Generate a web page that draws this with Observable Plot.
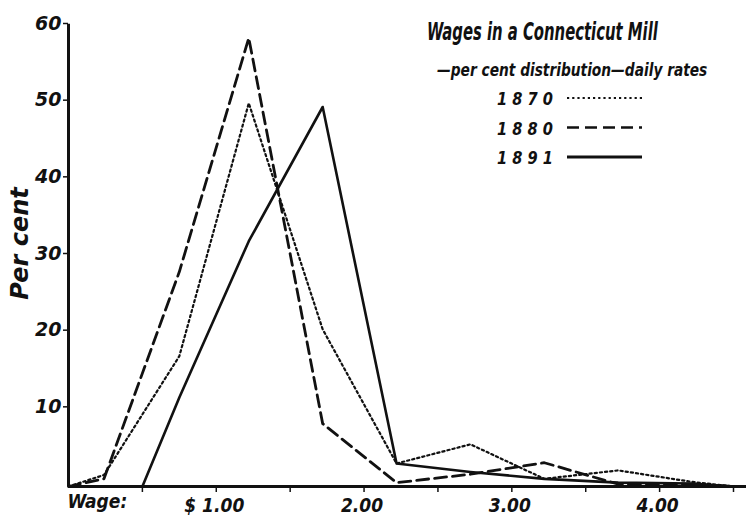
<!DOCTYPE html>
<html>
<head>
<meta charset="utf-8">
<script src="https://cdn.jsdelivr.net/npm/d3@7"></script>
<script src="https://cdn.jsdelivr.net/npm/@observablehq/plot@0.6"></script>
<style>
  html, body { margin: 0; padding: 0; background: #fff; }
  #wrap { position: relative; width: 746px; height: 521px; }
  #overlay { position: absolute; left: 0; top: 0; pointer-events: none; }
</style>
</head>
<body>
<div id="wrap"></div>
<script>
// ---- data ----
const wages = [0, 0.24, 0.75, 1.22, 1.72, 2.22, 2.72, 3.22, 3.72, 4.22, 4.5];
const pct1870 = [0, 1.5, 17, 50, 20.5, 3, 5.5, 1.0, 2.1, 0.6, 0];
const pct1880 = [0, 1.0, 28, 58.5, 8.2, 0.5, 1.6, 3.1, 0.3, 0.3, 0];
const wages1891 = [0.5, 0.75, 1.22, 1.72, 2.22, 2.72, 3.22, 3.72, 4.22, 4.5];
const pct1891 = [0, 11.6, 32, 49.5, 3, 1.9, 1.0, 0.5, 0.4, 0];
const yTicks = [10, 20, 30, 40, 50, 60];
const xTickMarks = [0.5, 1, 1.5, 2, 2.5, 3, 3.5, 4, 4.5];
const xLabelTicks = [1, 2, 3, 4];
const xLabels = ["$ 1.00", "2.00", "3.00", "4.00"];
const years = ["1870", "1880", "1891"];

const rows1870 = wages.map((w, i) => ({wage: w, pct: pct1870[i]}));
const rows1880 = wages.map((w, i) => ({wage: w, pct: pct1880[i]}));
const rows1891 = wages1891.map((w, i) => ({wage: w, pct: pct1891[i]}));

const hand = "'DejaVu Sans Condensed', 'Liberation Sans Narrow', sans-serif";
const handWide = "'DejaVu Sans', sans-serif";

const chart = Plot.plot({
  width: 746,
  height: 521,
  marginLeft: 68,
  marginRight: 0,
  marginTop: 26,
  marginBottom: 35,
  x: {domain: [0, 4.588]},
  y: {domain: [0, 60]},
  style: {background: "#fff", color: "#111", fontFamily: hand},
  marks: [
    Plot.axisY({ticks: yTicks, tickSize: 5, tickPadding: 2, label: null,
      fontSize: 19, fontWeight: "bold", fontStyle: "italic", fontFamily: handWide,
      dy: -3, strokeWidth: 1.5}),
    Plot.axisX({ticks: xTickMarks, tickSize: 6, tickFormat: () => "", label: null, strokeWidth: 1.5}),
    Plot.axisX({ticks: xLabelTicks, tickSize: 0, tickPadding: 12, label: null,
      tickFormat: d => xLabels[xLabelTicks.indexOf(d)],
      fontSize: 19, fontWeight: "bold", fontStyle: "italic", dx: -2}),
    Plot.ruleX([0], {y1: 0, y2: 60.3, stroke: "#111", strokeWidth: 3}),
    Plot.ruleY([0], {stroke: "#111", strokeWidth: 3}),
    Plot.line(rows1870, {x: "wage", y: "pct", stroke: "#111", strokeWidth: 2.2, strokeDasharray: "2.2,3"}),
    Plot.line(rows1880, {x: "wage", y: "pct", stroke: "#111", strokeWidth: 2.8, strokeDasharray: "12,6"}),
    Plot.line(rows1891, {x: "wage", y: "pct", stroke: "#111", strokeWidth: 2.6}),
    Plot.text(["Per cent"], {frameAnchor: "left", textAnchor: "middle", rotate: -90, dx: -48, dy: -13,
      fontSize: 24, fontWeight: "bold", fontStyle: "italic", fontFamily: handWide, fill: "#111"}),
    Plot.text(["Wage:"], {frameAnchor: "bottom-left", dx: -1, dy: 21, textAnchor: "start",
      fontSize: 19, fontWeight: "bold", fontStyle: "italic", fill: "#111"})
  ]
});
document.getElementById("wrap").appendChild(chart);

// ---- title and legend overlay ----
const ov = d3.select("#wrap").append("svg").attr("id", "overlay")
  .attr("width", 746).attr("height", 521);
function squeezed(str, x, y, size, sx, family) {
  return ov.append("g").attr("transform", `translate(${x},${y}) scale(${sx},1)`)
    .append("text").text(str)
    .style("font-family", family).style("font-style", "italic").style("font-weight", "bold")
    .style("font-size", size + "px").attr("fill", "#111");
}
squeezed("Wages in a Connecticut Mill", 427, 40, 25, 0.66, hand);
squeezed("\u2014per cent distribution\u2014daily rates", 437, 76, 17, 0.9, hand);
const legendDash = ["2.2,3", "12,6", null];
const legendW = [2, 2.6, 2.8];
years.forEach((yr, i) => {
  const cy = 98 + i * 29.5;
  squeezed(yr.split("").join(" "), 497, cy + 7, 17, 0.86, handWide);
  const ln = ov.append("line").attr("x1", 567).attr("x2", 642).attr("y1", cy).attr("y2", cy)
    .attr("stroke", "#111").attr("stroke-width", legendW[i]);
  if (legendDash[i]) ln.attr("stroke-dasharray", legendDash[i]);
});
</script>
</body>
</html>
